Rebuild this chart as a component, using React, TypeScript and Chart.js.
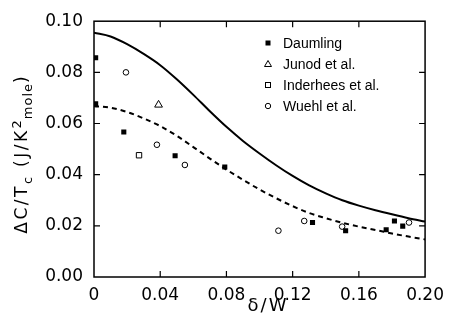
import React, { useEffect, useRef } from "react";
import { Chart, registerables } from "chart.js";

Chart.register(...registerables);

// ---- data ----
const daumlingX = [0.001, 0.001, 0.018, 0.049, 0.079, 0.132, 0.152, 0.1765, 0.1815, 0.1865];
const daumlingY = [0.0857, 0.0677, 0.0567, 0.0474, 0.043, 0.0213, 0.0181, 0.0185, 0.0219, 0.0199];

const junodX = [0.039];
const junodY = [0.0673];

const inderheesX = [0.0272];
const inderheesY = [0.0476];

const wuehlX = [0.0193, 0.038, 0.0549, 0.1114, 0.127, 0.1499, 0.1903];
const wuehlY = [0.08, 0.0517, 0.0438, 0.0181, 0.0219, 0.0197, 0.0213];

const curveX = [0, 0.01, 0.02, 0.03, 0.04, 0.05, 0.06, 0.07, 0.08, 0.09, 0.1, 0.11, 0.12, 0.13, 0.14, 0.15, 0.16, 0.17, 0.18, 0.19, 0.2];
const solidY = [0.0955, 0.094, 0.091, 0.0872, 0.0828, 0.0773, 0.0712, 0.0648, 0.0587, 0.0532, 0.0483, 0.0437, 0.0395, 0.0358, 0.0327, 0.03, 0.0279, 0.0261, 0.0245, 0.023, 0.0217];
const dashedY = [0.0668, 0.0662, 0.0645, 0.062, 0.059, 0.0552, 0.0508, 0.0463, 0.042, 0.038, 0.0342, 0.0308, 0.0277, 0.025, 0.023, 0.0212, 0.0197, 0.0184, 0.017, 0.0158, 0.0147];

const xTicks = [0, 0.04, 0.08, 0.12, 0.16, 0.2];
const yTicks = [0, 0.02, 0.04, 0.06, 0.08, 0.1];
const xTickLabels = ["0", "0.04", "0.08", "0.12", "0.16", "0.20"];
const yTickLabels = ["0.00", "0.02", "0.04", "0.06", "0.08", "0.10"];

const legendNames = ["Daumling", "Junod et al.", "Inderhees et al.", "Wuehl et al."];

const xTitle = "δ/W";

const FONT = "'DejaVu Sans', sans-serif";

function pts(xs: number[], ys: number[]) {
  return xs.map((x, i) => ({ x, y: ys[i] }));
}

function drawMarker(ctx: CanvasRenderingContext2D, kind: string, x: number, y: number) {
  ctx.save();
  ctx.strokeStyle = "#000";
  ctx.fillStyle = "#000";
  ctx.lineWidth = 1;
  if (kind === "fsquare") {
    ctx.fillRect(x - 2.5, y - 2.5, 5, 5);
  } else if (kind === "triangle") {
    ctx.beginPath();
    ctx.moveTo(x, y - 3.5);
    ctx.lineTo(x + 3.5, y + 2.5);
    ctx.lineTo(x - 3.5, y + 2.5);
    ctx.closePath();
    ctx.stroke();
  } else if (kind === "osquare") {
    ctx.strokeRect(x - 2.5, y - 2.5, 5, 5);
  } else {
    ctx.beginPath();
    ctx.arc(x, y, 2.7, 0, Math.PI * 2);
    ctx.stroke();
  }
  ctx.restore();
}

const framePlugin = {
  id: "frameDecor",
  afterDraw(chart: any) {
    const ctx: CanvasRenderingContext2D = chart.ctx;
    const { left, right, top, bottom } = chart.chartArea;
    const xs = chart.scales.x;
    const ys = chart.scales.y;
    ctx.save();
    ctx.strokeStyle = "#000";
    ctx.lineWidth = 1.5;
    ctx.strokeRect(left, top, right - left, bottom - top);
    ctx.lineWidth = 1.2;
    const tl = 6;
    ctx.beginPath();
    xTicks.forEach((v) => {
      const px = xs.getPixelForValue(v);
      if (Math.abs(px - left) < 2 || Math.abs(px - right) < 2) return;
      ctx.moveTo(px, bottom);
      ctx.lineTo(px, bottom - tl);
      ctx.moveTo(px, top);
      ctx.lineTo(px, top + tl);
    });
    yTicks.forEach((v) => {
      const py = ys.getPixelForValue(v);
      if (Math.abs(py - top) < 2 || Math.abs(py - bottom) < 2) return;
      ctx.moveTo(left, py);
      ctx.lineTo(left + tl, py);
      ctx.moveTo(right, py);
      ctx.lineTo(right - tl, py);
    });
    ctx.stroke();

    // legend
    const kinds = ["fsquare", "triangle", "osquare", "circle"];
    ctx.fillStyle = "#000";
    ctx.font = `14px 'Liberation Sans', sans-serif`;
    ctx.textBaseline = "middle";
    ctx.textAlign = "left";
    legendNames.forEach((name, i) => {
      const y = 43 + i * 21;
      drawMarker(ctx, kinds[i], 268, y);
      ctx.fillText(name, 283, y + 1);
    });

    // x title
    ctx.font = `18px ${FONT}`;
    (ctx as any).letterSpacing = "2px";
    ctx.textAlign = "center";
    ctx.textBaseline = "middle";
    ctx.fillText(xTitle, 268, 306);
    (ctx as any).letterSpacing = "0px";

    // y title with sub/superscripts
    const parts = [
      { t: "ΔC/T", size: 17, dy: 0, ls: 2.5 },
      { t: "c", size: 13, dy: 5, ls: 2 },
      { t: " (J/K", size: 17, dy: 0, ls: 2.5 },
      { t: "2", size: 13, dy: -6, ls: 1 },
      { t: "mole", size: 13, dy: 5, ls: 1 },
      { t: ")", size: 17, dy: 0, ls: 0 },
    ];
    ctx.textAlign = "left";
    ctx.textBaseline = "alphabetic";
    let total = 0;
    const widths: number[] = [];
    parts.forEach((p) => {
      ctx.font = `${p.size}px ${FONT}`;
      (ctx as any).letterSpacing = `${p.ls}px`;
      const w = ctx.measureText(p.t).width;
      widths.push(w);
      total += w;
    });
    ctx.translate(27, 155);
    ctx.rotate(-Math.PI / 2);
    let cx = -total / 2;
    parts.forEach((p, i) => {
      ctx.font = `${p.size}px ${FONT}`;
      (ctx as any).letterSpacing = `${p.ls}px`;
      ctx.fillText(p.t, cx, p.dy);
      cx += widths[i];
    });
    (ctx as any).letterSpacing = "0px";
    ctx.restore();
  },
};

export default function App() {
  const ref = useRef<HTMLCanvasElement>(null);
  useEffect(() => {
    const canvas = ref.current!;
    const chart = new Chart(canvas, {
      type: "scatter",
      data: {
        datasets: [
          {
            type: "line",
            label: "theory",
            data: pts(curveX, solidY),
            borderColor: "#000",
            borderWidth: 2,
            pointRadius: 0,
            cubicInterpolationMode: "monotone",
            fill: false,
          },
          {
            type: "line",
            label: "theory2",
            data: pts(curveX, dashedY),
            borderColor: "#000",
            borderWidth: 2,
            borderDash: [5, 4],
            pointRadius: 0,
            cubicInterpolationMode: "monotone",
            fill: false,
          },
          {
            label: legendNames[0],
            data: pts(daumlingX, daumlingY),
            pointStyle: "rect",
            pointRadius: 3.6,
            backgroundColor: "#000",
            borderColor: "#000",
            borderWidth: 0,
          },
          {
            label: legendNames[1],
            data: pts(junodX, junodY),
            pointStyle: "triangle",
            pointRadius: 4.5,
            backgroundColor: "rgba(0,0,0,0)",
            borderColor: "#000",
            borderWidth: 1,
          },
          {
            label: legendNames[2],
            data: pts(inderheesX, inderheesY),
            pointStyle: "rect",
            pointRadius: 3.8,
            backgroundColor: "rgba(0,0,0,0)",
            borderColor: "#000",
            borderWidth: 1,
          },
          {
            label: legendNames[3],
            data: pts(wuehlX, wuehlY),
            pointStyle: "circle",
            pointRadius: 2.8,
            backgroundColor: "rgba(0,0,0,0)",
            borderColor: "#000",
            borderWidth: 1,
          },
        ],
      },
      options: {
        animation: false,
        responsive: false,
        maintainAspectRatio: false,
        layout: { padding: { top: 14, right: 20, left: 0, bottom: 0 } },
        plugins: {
          legend: { display: false },
          tooltip: { enabled: false },
        },
        scales: {
          x: {
            type: "linear",
            min: 0,
            max: 0.2,
            afterBuildTicks: (s: any) => {
              s.ticks = xTicks.map((v) => ({ value: v }));
            },
            afterFit: (s: any) => {
              s.height = 49;
            },
            ticks: {
              color: "#000",
              font: { family: FONT, size: 17 },
              padding: 8,
              maxRotation: 0,
              autoSkip: false,
              callback: (_v: any, i: number) => xTickLabels[i],
            },
            grid: { display: false, drawTicks: false },
            border: { display: false },
          },
          y: {
            type: "linear",
            min: 0,
            max: 0.1,
            afterBuildTicks: (s: any) => {
              s.ticks = yTicks.map((v) => ({ value: v }));
            },
            afterFit: (s: any) => {
              s.width = 94;
            },
            ticks: {
              color: "#000",
              font: { family: FONT, size: 17 },
              padding: 11,
              autoSkip: false,
              callback: (_v: any, i: number) => yTickLabels[i],
            },
            grid: { display: false, drawTicks: false },
            border: { display: false },
          },
        },
      },
      plugins: [framePlugin],
    } as any);
    return () => chart.destroy();
  }, []);
  return (
    <div style={{ position: "fixed", left: 0, top: 0, width: 452, height: 326, background: "#fff" }}>
      <canvas ref={ref} width={452} height={326} style={{ width: 452, height: 326, display: "block" }} />
    </div>
  );
}
